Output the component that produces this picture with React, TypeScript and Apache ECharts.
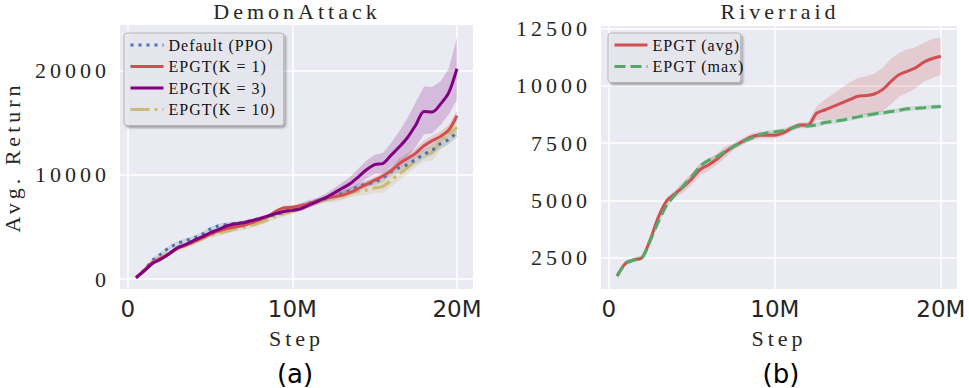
import React, { useEffect, useRef } from "react";
import * as echarts from "echarts";

// ---- data (steps in millions) ----
const STEPS = [0.5, 1, 1.5, 2, 2.5, 3, 3.5, 4, 4.5, 5, 5.5, 6, 6.5, 7, 7.5, 8, 8.5, 9, 9.5, 10,
  10.5, 11, 11.5, 12, 12.5, 13, 13.5, 14, 14.5, 15, 15.5, 16, 16.5, 17, 17.5, 18, 18.5, 19, 19.5, 20];

const X_TICKS = [0, 10, 20];
const LEFT_Y_TICKS = [0, 10000, 20000];
const RIGHT_Y_TICKS = [2500, 5000, 7500, 10000, 12500];

// DemonAttack
const PPO_MEAN = [150, 900, 1800, 2400, 3000, 3400, 3700, 3950, 4300, 4800, 5100, 5250, 5350, 5450, 5600, 5800, 6000, 6200, 6450, 6700,
  7000, 7300, 7500, 7700, 7950, 8200, 8500, 8900, 9150, 9300, 9700, 10300, 10700, 11000, 11500, 12000, 12400, 13000, 13400, 14100];
const PPO_LO = [0, 700, 1600, 2200, 2800, 3200, 3500, 3750, 4100, 4600, 4900, 5050, 5150, 5250, 5400, 5600, 5800, 6000, 6250, 6500,
  6700, 7000, 7200, 7400, 7650, 7900, 8200, 8600, 8850, 9000, 9250, 9850, 10250, 10550, 11050, 11550, 11950, 12550, 12950, 13650];
const PPO_HI = [350, 1100, 2000, 2600, 3200, 3600, 3900, 4150, 4500, 5000, 5300, 5450, 5550, 5650, 5800, 6000, 6200, 6400, 6650, 6900,
  7300, 7600, 7800, 8000, 8250, 8500, 8800, 9200, 9450, 9600, 10150, 10750, 11150, 11450, 11950, 12450, 12850, 13450, 13850, 14550];

const K1_MEAN = [150, 850, 1600, 2000, 2450, 2950, 3250, 3600, 3950, 4300, 4600, 4850, 5000, 5150, 5400, 5700, 6000, 6500, 6850, 6900,
  7050, 7250, 7500, 7750, 7900, 8050, 8300, 8700, 9100, 9500, 9900, 10400, 11100, 11600, 12100, 12800, 13300, 13700, 14300, 15700];
const K1_LO = [0, 650, 1400, 1800, 2250, 2750, 3050, 3400, 3750, 4100, 4400, 4650, 4800, 4950, 5200, 5500, 5800, 6300, 6650, 6700,
  6850, 7050, 7300, 7550, 7550, 7700, 7950, 8350, 8750, 9150, 9550, 10050, 10600, 11100, 11600, 12300, 12800, 13200, 13800, 15200];
const K1_HI = [350, 1050, 1800, 2200, 2650, 3150, 3450, 3800, 4150, 4500, 4800, 5050, 5200, 5350, 5600, 5900, 6200, 6700, 7050, 7100,
  7250, 7450, 7700, 7950, 8250, 8400, 8650, 9050, 9450, 9850, 10250, 10750, 11600, 12100, 12600, 13300, 13800, 14200, 14800, 16200];

const K3_MEAN = [150, 800, 1500, 1900, 2400, 3000, 3300, 3700, 4050, 4450, 4750, 5100, 5300, 5400, 5600, 5800, 6050, 6300, 6500, 6600,
  6750, 7100, 7450, 7800, 8250, 8700, 9150, 9800, 10500, 11000, 11100, 11900, 12700, 13600, 14800, 16100, 16050, 16800, 17900, 20200];
const K3_LO = [50, 650, 1350, 1750, 2250, 2850, 3150, 3550, 3900, 4300, 4600, 4950, 5150, 5250, 5450, 5650, 5900, 6150, 6350, 6450,
  6550, 6850, 7150, 7450, 7850, 8200, 8550, 9050, 9650, 10100, 10200, 10800, 11300, 11800, 12700, 13900, 14000, 14800, 15800, 17200];
const K3_HI = [300, 950, 1650, 2050, 2550, 3150, 3450, 3850, 4200, 4600, 4900, 5250, 5450, 5550, 5750, 5950, 6200, 6450, 6650, 6750,
  7000, 7400, 7800, 8200, 8700, 9250, 9800, 10600, 11400, 11950, 12100, 13100, 14200, 15500, 17000, 18500, 18450, 19000, 20200, 23200];

const K10_MEAN = [100, 800, 1600, 2050, 2500, 2900, 3200, 3500, 3850, 4200, 4400, 4600, 4800, 4950, 5150, 5400, 5700, 6000, 6300, 6500,
  6800, 7100, 7400, 7600, 7800, 8000, 8300, 8450, 8550, 8750, 8900, 9500, 10100, 10700, 11400, 11900, 12200, 13200, 13900, 14600];
const K10_LO = [0, 550, 1350, 1800, 2250, 2650, 2950, 3250, 3600, 3950, 4150, 4350, 4550, 4700, 4900, 5150, 5450, 5750, 6050, 6250,
  6550, 6850, 7150, 7350, 7350, 7550, 7850, 8000, 8100, 8300, 8300, 8900, 9500, 10100, 10800, 11300, 11400, 12400, 13100, 13600];
const K10_HI = [350, 1050, 1850, 2300, 2750, 3150, 3450, 3750, 4100, 4450, 4650, 4850, 5050, 5200, 5400, 5650, 5950, 6250, 6550, 6750,
  7050, 7350, 7650, 7850, 8250, 8450, 8750, 8900, 9000, 9200, 9500, 10100, 10700, 11300, 12000, 12500, 13000, 14000, 14700, 15600];

// Riverraid
const AVG_MEAN = [1700, 2250, 2400, 2500, 3300, 4300, 5000, 5300, 5600, 5950, 6350, 6550, 6800, 7100, 7350, 7550, 7750, 7850, 7850, 7850,
  7950, 8150, 8300, 8300, 8800, 8950, 9100, 9250, 9400, 9550, 9580, 9650, 9850, 10200, 10500, 10650, 10800, 11050, 11200, 11300];
const AVG_LO = [1620, 2170, 2320, 2420, 3150, 4150, 4850, 5150, 5350, 5700, 6100, 6300, 6550, 6850, 7200, 7400, 7600, 7700, 7700, 7700,
  7830, 8030, 8180, 8180, 8500, 8500, 8550, 8600, 8650, 8750, 8730, 8750, 8900, 9200, 9550, 9700, 9900, 10200, 10350, 10480];
const AVG_HI = [1780, 2330, 2480, 2580, 3450, 4450, 5150, 5450, 5850, 6200, 6600, 6800, 7050, 7350, 7500, 7700, 7900, 8000, 8000, 8000,
  8070, 8270, 8420, 8420, 9100, 9400, 9650, 9900, 10150, 10350, 10430, 10550, 10800, 11200, 11450, 11600, 11700, 11900, 12050, 12120];

const MAX_MEAN = [1700, 2250, 2400, 2500, 3250, 4100, 4800, 5250, 5650, 6050, 6500, 6750, 6900, 7150, 7350, 7550, 7700, 7850, 7950, 8000,
  8050, 8150, 8250, 8250, 8300, 8400, 8450, 8500, 8580, 8650, 8720, 8780, 8830, 8880, 8940, 9000, 9030, 9050, 9080, 9100];
const MAX_LO = [1600, 2150, 2300, 2400, 3150, 4000, 4700, 5150, 5550, 5950, 6400, 6650, 6800, 7050, 7250, 7450, 7600, 7750, 7850, 7900,
  7950, 8050, 8150, 8150, 8200, 8300, 8350, 8400, 8480, 8550, 8620, 8680, 8730, 8780, 8840, 8900, 8930, 8950, 8980, 9000];
const MAX_HI = [1800, 2350, 2500, 2600, 3350, 4200, 4900, 5350, 5750, 6150, 6600, 6850, 7000, 7250, 7450, 7650, 7800, 7950, 8050, 8100,
  8150, 8250, 8350, 8350, 8400, 8500, 8550, 8600, 8680, 8750, 8820, 8880, 8930, 8980, 9040, 9100, 9130, 9150, 9180, 9200];

// ---- styles ----
const SERIF = "Liberation Serif";
const SANS = "DejaVu Sans";
const TXT = "#262626";
const BG = "#EAEAF2";

const C_BLUE = "#4C72B0";
const C_RED = "#CF4F52";
const C_PURPLE = "#800080";
const C_YELLOW = "#CCB974";
const C_GREEN = "#55A868";

function band(name: string, gi: number, lo: number[], hi: number[], fill: string) {
  return {
    type: "custom",
    name,
    xAxisIndex: gi,
    yAxisIndex: gi,
    silent: true,
    z: 1,
    data: [[STEPS[0], lo[0]]],
    renderItem: (_p: any, api: any) => {
      const pts: number[][] = [];
      for (let i = 0; i < STEPS.length; i++) pts.push(api.coord([STEPS[i], hi[i]]));
      for (let i = STEPS.length - 1; i >= 0; i--) pts.push(api.coord([STEPS[i], lo[i]]));
      return { type: "polygon", shape: { points: pts }, style: { fill, stroke: "none" } };
    },
  };
}

function line(name: string, gi: number, vals: number[], color: string, dash: any, z: number) {
  return {
    type: "line",
    name,
    xAxisIndex: gi,
    yAxisIndex: gi,
    symbol: "none",
    showSymbol: false,
    smooth: 0.3,
    z,
    data: STEPS.map((x, i) => [x, vals[i]]),
    itemStyle: { color },
    lineStyle: { color, width: 3, type: dash, cap: "butt" },
  };
}

function xAxis(gi: number) {
  return {
    type: "value",
    gridIndex: gi,
    min: -0.475,
    max: 20.975,
    name: "Step",
    nameLocation: "middle",
    nameGap: 38,
    nameTextStyle: { fontFamily: SERIF, fontSize: 22, color: TXT, lineHeight: 22 },
    axisLine: { show: false },
    axisTick: { show: false, customValues: X_TICKS },
    axisLabel: {
      customValues: X_TICKS,
      fontFamily: SANS,
      fontSize: 23,
      lineHeight: 24,
      color: TXT,
      margin: 8,
      formatter: (v: number) => (v === 0 ? "0" : v + "M"),
    },
    splitLine: { show: true, lineStyle: { color: "#ffffff", width: 1.5 } },
  };
}

function yAxis(gi: number, min: number, max: number, ticks: number[], name?: string) {
  return {
    type: "value",
    gridIndex: gi,
    min,
    max,
    name: name || "",
    nameLocation: "middle",
    nameGap: 97,
    nameTextStyle: { fontFamily: SERIF, fontSize: 22, color: TXT, lineHeight: 22 },
    axisLine: { show: false },
    axisTick: { show: false, customValues: ticks },
    axisLabel: {
      customValues: ticks,
      fontFamily: SERIF,
      fontSize: 22,
      color: TXT,
      margin: 10,
      formatter: (v: number) => String(v),
    },
    splitLine: { show: true, lineStyle: { color: "#ffffff", width: 1.5 } },
  };
}

const legendCommon = {
  orient: "vertical",
  itemWidth: 33,
  itemHeight: 14,
  itemGap: 5.5,
  itemTextGap: 6,
  backgroundColor: "rgba(234,234,242,0.85)",
  borderColor: "#b5b5b5",
  borderWidth: 1,
  borderRadius: 3,
  shadowColor: "rgba(0,0,0,0.35)",
  shadowBlur: 2,
  shadowOffsetX: 2,
  shadowOffsetY: 2,
  itemStyle: { opacity: 0, borderWidth: 0 },
  lineStyle: { width: 3 },
  textStyle: { fontFamily: SERIF, fontSize: 16, color: "#111", lineHeight: 16 },
};

export default function App() {
  const ref = useRef<HTMLDivElement>(null);
  useEffect(() => {
    if (!ref.current) return;
    const chart = echarts.init(ref.current, null, { renderer: "svg" });
    chart.setOption({
      animation: false,
      backgroundColor: "#ffffff",
      title: [
        { text: "DemonAttack", left: 297, top: 0, textAlign: "center", padding: 0,
          textStyle: { fontFamily: SERIF, fontSize: 22, fontWeight: "normal", color: TXT, lineHeight: 22 } },
        { text: "Riverraid", left: 780, top: 0, textAlign: "center", padding: 0,
          textStyle: { fontFamily: SERIF, fontSize: 22, fontWeight: "normal", color: TXT, lineHeight: 22 } },
      ],
      grid: [
        { left: 117, top: 25, width: 356, height: 264, show: true, backgroundColor: BG, borderWidth: 0 },
        { left: 601, top: 26, width: 356, height: 263, show: true, backgroundColor: BG, borderWidth: 0 },
      ],
      xAxis: [xAxis(0), xAxis(1)],
      yAxis: [
        yAxis(0, -950, 24400, LEFT_Y_TICKS, "Avg. Return"),
        yAxis(1, 1130, 12620, RIGHT_Y_TICKS),
      ],
      legend: [
        { ...legendCommon, left: 124, top: 33, padding: [4, 20, 8, 5],
          data: ["Default (PPO)", "EPGT(K = 1)", "EPGT(K = 3)", "EPGT(K = 10)"] },
        { ...legendCommon, left: 608, top: 33, padding: [4, 6, 8, 5],
          data: ["EPGT (avg)", "EPGT (max)"] },
      ],
      graphic: [
        { type: "text", x: 295, y: 374, style: { text: "(a)", font: `26px '${SANS}'`, lineHeight: 24, fill: "#000", align: "center", verticalAlign: "middle" } },
        { type: "text", x: 781, y: 374, style: { text: "(b)", font: `26px '${SANS}'`, lineHeight: 24, fill: "#000", align: "center", verticalAlign: "middle" } },
      ],
      series: [
        band("band-ppo", 0, PPO_LO, PPO_HI, "rgba(76,114,176,0.2)"),
        band("band-k1", 0, K1_LO, K1_HI, "rgba(207,79,82,0.2)"),
        band("band-k10", 0, K10_LO, K10_HI, "rgba(204,185,116,0.25)"),
        band("band-k3", 0, K3_LO, K3_HI, "rgba(128,0,128,0.2)"),
        line("EPGT(K = 10)", 0, K10_MEAN, C_YELLOW, [19, 5, 3, 5], 3),
        line("Default (PPO)", 0, PPO_MEAN, C_BLUE, [3, 5], 4),
        line("EPGT(K = 1)", 0, K1_MEAN, C_RED, "solid", 5),
        line("EPGT(K = 3)", 0, K3_MEAN, C_PURPLE, "solid", 6),
        band("band-max", 1, MAX_LO, MAX_HI, "rgba(85,168,104,0.2)"),
        band("band-avg", 1, AVG_LO, AVG_HI, "rgba(207,79,82,0.2)"),
        line("EPGT (avg)", 1, AVG_MEAN, C_RED, "solid", 4),
        line("EPGT (max)", 1, MAX_MEAN, C_GREEN, [11, 5], 5),
      ],
    });
    return () => chart.dispose();
  }, []);
  return (
    <>
      <style>{`.chart-root text[style*="Liberation Serif"]{letter-spacing:4px}
.chart-root text[style*="Liberation Serif"][style*="16px"]{letter-spacing:1px}`}</style>
      <div
        ref={ref}
        className="chart-root"
        style={{ position: "absolute", left: 0, top: 0, width: 969, height: 388 }}
      />
    </>
  );
}
